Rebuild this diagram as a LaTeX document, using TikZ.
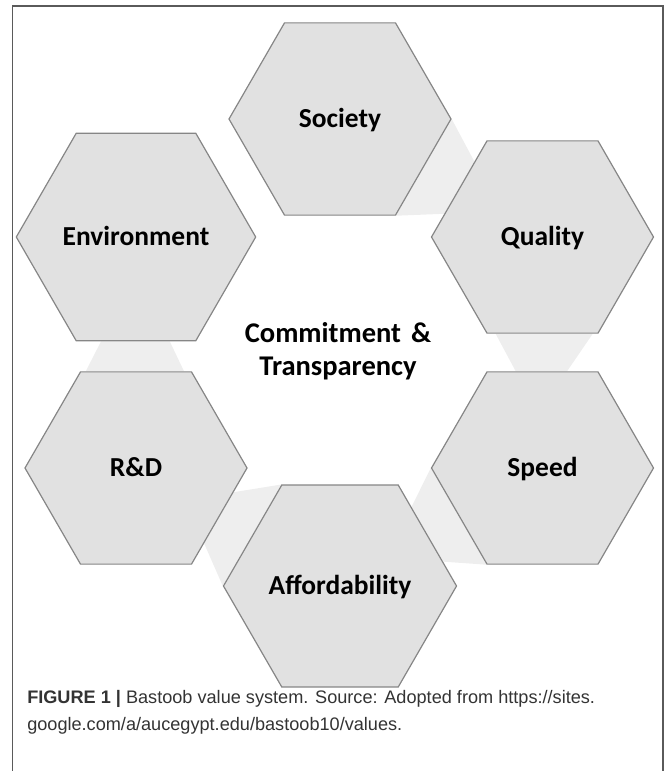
\documentclass[tikz,border=0pt]{standalone}
\usepackage{fontspec}
\setmainfont{Carlito}
\newfontfamily\capfont{Liberation Sans}
\usetikzlibrary{shapes.geometric,calc,backgrounds}

\definecolor{hexfill}{HTML}{E1E1E1}
\definecolor{hexline}{HTML}{868686}
\definecolor{linkfill}{HTML}{EEEEEE}
\definecolor{framegray}{HTML}{5A5A5A}
\definecolor{capgray}{HTML}{333333}

\begin{document}
\begin{tikzpicture}[x=0.75pt,y=-0.75pt,
    hexa/.style={regular polygon,regular polygon sides=6,minimum size=166.5pt,inner sep=0pt,
      text height=13pt,text depth=0pt,
      draw=hexline,fill=hexfill,line width=0.9pt,font=\bfseries\fontsize{20.6}{24}\selectfont},
    link/.style={fill=linkfill}]

  \useasboundingbox (0,0) rectangle (667,771);
  \draw[framegray,line width=1.1pt] (12.5,790) -- (12.5,6) -- (663,6) -- (663,790);

  % the six values
  \node[hexa] (soc) at (340,119) {Society};
  \node[hexa] (qua) at (542.5,237) {Quality};
  \node[hexa] (spd) at (542.5,468) {Speed};
  \node[hexa] (aff) at (340,586) {Affordability};
  \node[hexa] (rd) at (136,468) {R\&D};
  \node[hexa] (env) at (136,237) {Environment};

  \node[align=center,font=\bfseries\fontsize{21.4}{24.75}\selectfont] (c1) at (338,351) {Commitment\hspace{0.35em}\&\\Transparency};

  % light bands between neighbours, behind the hexagons
  \begin{scope}[on background layer]
    \fill[link] (soc.0) -- ($(qua.120)!0.22!(qua.180)$) -- ($(qua.120)!0.76!(qua.180)$) -- (soc.-60) -- cycle;
    \fill[link] ($(qua.-120)!0.08!(qua.-60)$) -- ($(qua.-120)!0.95!(qua.-60)$) -- ($(spd.120)!0.72!(spd.60)$) -- ($(spd.120)!0.26!(spd.60)$) -- cycle;
    \fill[link] (spd.180) -- (spd.-120) -- ($(aff.60)!0.76!(aff.0)$) -- ($(aff.60)!0.22!(aff.0)$) -- cycle;
    \fill[link] ($(rd.0)!0.25!(rd.-60)$) -- (aff.120) -- (aff.180) -- ($(rd.0)!0.78!(rd.-60)$) -- cycle;
    \fill[link] ($(env.-120)!0.21!(env.-60)$) -- ($(env.-120)!0.78!(env.-60)$) -- ($(rd.120)!0.93!(rd.60)$) -- ($(rd.120)!0.05!(rd.60)$) -- cycle;
  \end{scope}

  \node[anchor=base west,align=left,inner sep=0pt,text=capgray,
    font=\capfont\fontsize{13.6}{19.8}\selectfont] (cap) at (27,730)
    {\textbf{FIGURE 1 |} Bastoob value system. Source: Adopted from https://sites.\\google.com/a/aucegypt.edu/bastoob10/values.};

\end{tikzpicture}
\end{document}
